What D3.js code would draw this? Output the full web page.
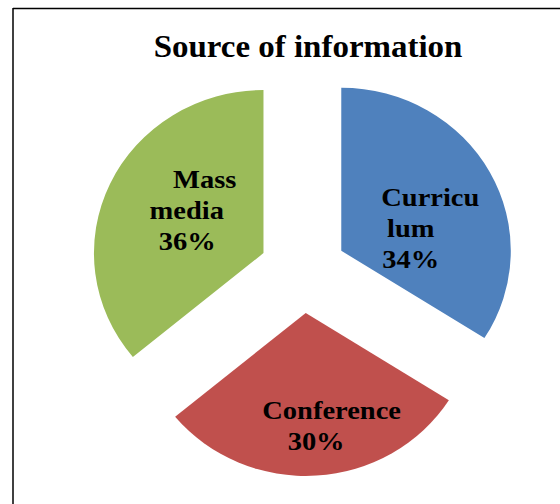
<!DOCTYPE html>
<html>
<head>
<meta charset="utf-8">
<script src="https://cdn.jsdelivr.net/npm/d3@7"></script>
<style>
  body { margin: 0; background: #fff; }
</style>
</head>
<body>
<div id="chart"></div>
<script>
// chart data
const categories = ["Curriculum", "Conference", "Mass media"]
const values = [34, 30, 36]
const labelLines = [["Curricu", "lum"], ["Conference"], ["Mass", "media"]]
const colors = ["#4F81BD", "#C0504D", "#9BBB59"]
const title = "Source of information"

const config = {
    width: 560,
    height: 504,
    cx: 303,
    cy: 271,
    radius: 163,
    explode: 42,
    stretch: 1.04,      // the picture is a bit wider than tall
    labelR: 90,
    lineH: 31,
    font: "'Liberation Serif', 'Times New Roman', serif"
}
// where each label block sits relative to its slice centroid
const labelLayout = {
    "Curriculum": { dx: 7, dy: -1, lines: [0, -19.5, -19.5] },
    "Conference": { dx: 20, dy: 16, lines: [0, -15.5] },
    "Mass media": { dx: 26, dy: -27, lines: [0, -18, -17.5] }
}

const { width, height, cx, cy, radius, explode, stretch, labelR, lineH, font } = config

const svg = d3.select("#chart")
    .append("svg")
    .attr("width", width)
    .attr("height", height)

// frame (top and left edges only are visible)
svg.append("line")
    .attr("x1", 13).attr("y1", 8.5)
    .attr("x2", width).attr("y2", 8.5)
    .style("stroke", "black").style("stroke-width", 1.5)
svg.append("line")
    .attr("x1", 13).attr("y1", 8)
    .attr("x2", 13).attr("y2", height)
    .style("stroke", "black").style("stroke-width", 1.5)

// title
svg.append("text")
    .attr("transform", "translate(308,57) scale(1.03,1)")
    .attr("text-anchor", "middle")
    .text(title)
    .style("font-family", font)
    .style("font-size", "32px")
    .style("font-weight", "bold")
    .style("fill", "#000")

const pieData = d3.pie()
    .sort(null)
    .value(d => d.value)(categories.map((c, i) => ({ name: c, value: values[i], color: colors[i], lines: labelLines[i] })))

const arc = d3.arc().innerRadius(0).outerRadius(radius)
const labelArc = d3.arc().innerRadius(labelR).outerRadius(labelR)

// offset along the bisector of each slice
function offset(d) {
    const a = (d.startAngle + d.endAngle) / 2
    return [Math.sin(a) * explode, -Math.cos(a) * explode]
}

const g = svg.append("g")
    .attr("transform", "translate(" + cx + "," + cy + ")")

g.append("g")
    .attr("transform", "scale(" + stretch + ",1)")
    .selectAll("path")
    .data(pieData)
    .enter().append("path")
    .attr("d", arc)
    .attr("transform", d => "translate(" + offset(d) + ")")
    .style("fill", d => d.data.color)

// labels, one text per line
pieData.forEach(d => {
    const o = offset(d)
    const c = labelArc.centroid(d)
    const lay = labelLayout[d.data.name]
    const bx = (c[0] + o[0]) * stretch + lay.dx
    const by = c[1] + o[1] + lay.dy
    const lines = d.data.lines.concat([d.data.value + "%"])
    lines.forEach((t, i) => {
        g.append("text")
            .attr("transform", "translate(" + (bx + lay.lines[i]) + "," + (by + i * lineH) + ") scale(1.14,1)")
            .attr("text-anchor", "middle")
            .text(t)
            .style("font-family", font)
            .style("font-size", "25px")
            .style("font-weight", "bold")
            .style("fill", "#000")
    })
})
</script>
</body>
</html>
